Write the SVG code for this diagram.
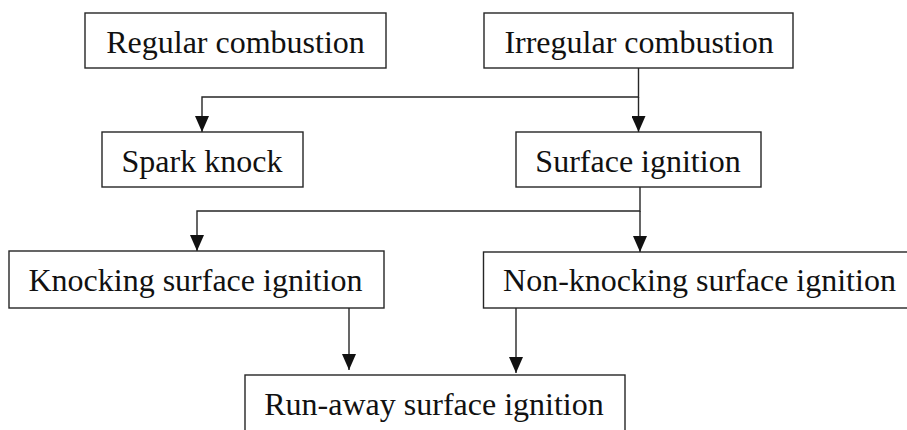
<svg xmlns="http://www.w3.org/2000/svg" width="907" height="430" viewBox="0 0 907 430">
<defs>
<style>
.box{fill:#fff;stroke:#262626;stroke-width:1.4}
.lbl{font-family:"Liberation Serif","Times New Roman",serif;font-size:32px;fill:#111;text-anchor:middle}
.ln{fill:none;stroke:#262626;stroke-width:1.4}
</style>
<marker id="ah" markerUnits="userSpaceOnUse" markerWidth="16" markerHeight="14" refX="16" refY="7" orient="auto" viewBox="0 0 16 14">
<path d="M0,0 L16,7 L0,14 Z" fill="#111"/>
</marker>
</defs>
<rect width="907" height="430" fill="#fff"/>
<g id="connectors">
<polyline class="ln" points="638.5,68 638.5,97 202,97 202,132" marker-end="url(#ah)"/>
<line class="ln" x1="638.5" y1="97" x2="638.5" y2="132" marker-end="url(#ah)"/>
<polyline class="ln" points="640,187 640,211 197,211 197,251" marker-end="url(#ah)"/>
<line class="ln" x1="640" y1="211" x2="640" y2="252" marker-end="url(#ah)"/>
<line class="ln" x1="349" y1="308" x2="349" y2="370" marker-end="url(#ah)"/>
<line class="ln" x1="516" y1="308" x2="516" y2="373" marker-end="url(#ah)"/>
</g>
<g id="regular">
<rect class="box" x="85" y="13" width="301" height="55"/>
<text class="lbl" x="235.5" y="53">Regular combustion</text>
</g>
<g id="irregular">
<rect class="box" x="484" y="13" width="309" height="55"/>
<text class="lbl" x="639" y="53">Irregular combustion</text>
</g>
<g id="spark">
<rect class="box" x="102" y="132" width="201" height="55"/>
<text class="lbl" x="202" y="172">Spark knock</text>
</g>
<g id="surface">
<rect class="box" x="516" y="132" width="245" height="55"/>
<text class="lbl" x="638" y="172">Surface ignition</text>
</g>
<g id="knocking">
<rect class="box" x="9" y="251" width="375" height="57"/>
<text class="lbl" x="195.5" y="291">Knocking surface ignition</text>
</g>
<g id="nonknocking">
<rect class="box" x="483.5" y="252" width="440" height="56"/>
<text class="lbl" x="699.5" y="291">Non-knocking surface ignition</text>
</g>
<g id="runaway">
<rect class="box" x="245" y="375" width="380" height="70"/>
<text class="lbl" x="434" y="415">Run-away surface ignition</text>
</g>
</svg>
